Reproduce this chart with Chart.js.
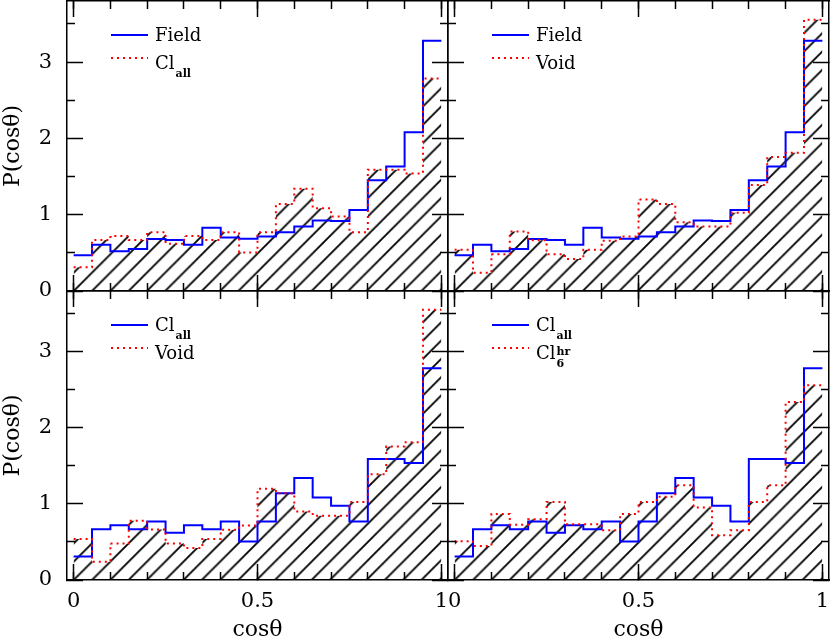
<!DOCTYPE html>
<html>
<head>
<meta charset="utf-8">
<script src="https://cdn.jsdelivr.net/npm/chart.js@4.4.1/dist/chart.umd.min.js"></script>
<style>
html,body{margin:0;padding:0;background:#fff;}
#wrap{position:relative;width:830px;height:640px;overflow:hidden;background:#fff;}
#wrap canvas{position:absolute;left:0;top:0;}
</style>
</head>
<body>
<div id="wrap">
<canvas id="c0" width="830" height="640"></canvas>
<canvas id="c1" width="830" height="640"></canvas>
<canvas id="c2" width="830" height="640"></canvas>
<canvas id="c3" width="830" height="640"></canvas>
</div>
<script>
// ---------- data ----------
const binEdges = [0, 0.05, 0.10, 0.15, 0.20, 0.25, 0.30, 0.35, 0.40, 0.45, 0.50,
                  0.55, 0.60, 0.65, 0.70, 0.75, 0.80, 0.85, 0.90, 0.95, 1.00];
const field  = [0.47, 0.605, 0.52, 0.55, 0.68, 0.667, 0.605, 0.83, 0.70, 0.684,
                0.715, 0.77, 0.846, 0.925, 0.917, 1.06, 1.45, 1.63, 2.08, 3.28];
const clAll  = [0.31, 0.667, 0.72, 0.667, 0.77, 0.62, 0.72, 0.667, 0.77, 0.505,
                0.77, 1.14, 1.34, 1.085, 0.975, 0.77, 1.59, 1.59, 1.54, 2.785];
const voidV  = [0.54, 0.24, 0.48, 0.78, 0.665, 0.48, 0.42, 0.54, 0.66, 0.715,
                1.20, 1.14, 0.90, 0.845, 0.845, 1.025, 1.39, 1.755, 1.81, 3.555];
const cl6hr  = [0.51, 0.447, 0.868, 0.728, 0.80, 1.026, 0.732, 0.732, 0.654, 0.868,
                1.026, 1.096, 1.246, 0.952, 0.588, 0.654, 1.026, 1.246, 2.34, 2.56];

const xMajorTicks = [0, 0.5, 1];
const xMinorTicks = [0, 0.1, 0.2, 0.3, 0.4, 0.5, 0.6, 0.7, 0.8, 0.9, 1];
const yMajorTicks = [0, 1, 2, 3];
const yMinorTicks = [0.5, 1.5, 2.5, 3.5];
const xTickLabels = ['0', '0.5', '1'];
const yTickLabels = ['0', '1', '2', '3'];
const xTitle = 'cosθ';
const yTitle = 'P(cosθ)';

// ---------- layout / style ----------
const XMIN = -0.018, XMAX = 1.018, YMIN = 0, YMAX = 3.8;
const COLS = [[67, 448], [448, 829]];
const ROWS = [[1, 291], [291, 580]];
const BLUE = '#0000ff', RED = '#ff0000';
const TICK_FONT = {family: '"DejaVu Serif"', size: 21};
const TITLE_FONT = {family: '"DejaVu Serif"', size: 22};

const panels = [
  {id: 'c0', col: 0, row: 0, blue: field, red: clAll,
   legend: [{text: 'Field'}, {text: 'Cl', sub: 'all'}]},
  {id: 'c1', col: 1, row: 0, blue: field, red: voidV,
   legend: [{text: 'Field'}, {text: 'Void'}]},
  {id: 'c2', col: 0, row: 1, blue: clAll, red: voidV,
   legend: [{text: 'Cl', sub: 'all'}, {text: 'Void'}]},
  {id: 'c3', col: 1, row: 1, blue: clAll, red: cl6hr,
   legend: [{text: 'Cl', sub: 'all'}, {text: 'Cl', sub: '6', sup: 'hr'}]}
];

function histPoints(vals) {
  const pts = vals.map((v, i) => ({x: binEdges[i], y: v}));
  pts.push({x: binEdges[binEdges.length - 1], y: vals[vals.length - 1]});
  return pts;
}

function makeHatch(ctx, offset) {
  const s = 18;
  const c = document.createElement('canvas');
  c.width = s; c.height = s;
  const g = c.getContext('2d');
  g.strokeStyle = '#000';
  g.lineWidth = 1.8;
  g.beginPath();
  g.moveTo(-3, s + 3); g.lineTo(s + 3, -3);
  g.moveTo(-3, 3); g.lineTo(3, -3);
  g.moveTo(s - 3, s + 3); g.lineTo(s + 3, s - 3);
  g.stroke();
  const p = ctx.createPattern(c, 'repeat');
  const k = 18.3 / s;
  p.setTransform(new DOMMatrix([k, 0, 0, k, offset, 0]));
  return p;
}

const legendPlugin = {
  id: 'panelLegend',
  afterDraw(chart, args, opts) {
    const {ctx, chartArea} = chart;
    const L = chartArea.left, T = chartArea.top;
    const lineY = [34, 57], baseY = [40, 68];
    ctx.save();
    opts.entries.forEach((e, i) => {
      const ly = T + lineY[i];
      ctx.beginPath();
      ctx.strokeStyle = i === 0 ? BLUE : RED;
      ctx.lineWidth = 2;
      ctx.setLineDash(i === 0 ? [] : [2, 4]);
      ctx.moveTo(L + 44, ly);
      ctx.lineTo(L + 81, ly);
      ctx.stroke();
      ctx.setLineDash([]);
      const by = T + baseY[i];
      let tx = L + 88;
      ctx.fillStyle = '#000';
      ctx.textAlign = 'left';
      ctx.textBaseline = 'alphabetic';
      ctx.font = '18px "DejaVu Serif"';
      ctx.fillText(e.text, tx, by);
      tx += ctx.measureText(e.text).width + 1;
      ctx.font = 'bold 11px "DejaVu Serif"';
      if (e.sub) ctx.fillText(e.sub, tx, by + 8);
      if (e.sup) ctx.fillText(e.sup, tx, by - 4);
    });
    ctx.restore();
  }
};

function zeroFit(size) {
  return function (scale) {
    if (scale.isHorizontal()) scale.height = size; else scale.width = size;
    scale.paddingLeft = 0; scale.paddingRight = 0;
    scale.paddingTop = 0; scale.paddingBottom = 0;
  };
}

function tickAxis(pos, list, len, withBorder, horizontal) {
  return {
    type: 'linear', position: pos,
    min: horizontal ? XMIN : YMIN, max: horizontal ? XMAX : YMAX,
    weight: 0,
    afterBuildTicks: s => { s.ticks = list.map(v => ({value: v})); },
    afterFit: zeroFit(0),
    ticks: {display: false, autoSkip: false},
    grid: {display: true, drawOnChartArea: false, drawTicks: true,
           tickLength: -len, tickColor: '#000', tickWidth: 1.5, z: 1},
    border: {display: withBorder, color: '#000', width: 1.5, z: 1}
  };
}

panels.forEach(p => {
  const [L, R] = COLS[p.col];
  const [T, B] = ROWS[p.row];
  const isLeft = p.col === 0, isBottom = p.row === 1;
  const canvas = document.getElementById(p.id);
  const ctx = canvas.getContext('2d');
  const x0 = L + (0 - XMIN) / (XMAX - XMIN) * (R - L);
  const hatch = makeHatch(ctx, x0 + B);

  const scales = {
    x: tickAxis('bottom', xMajorTicks, 16, true, true),
    xm: tickAxis('bottom', xMinorTicks, 8, false, true),
    xt: tickAxis('top', xMajorTicks, 16, true, true),
    xtm: tickAxis('top', xMinorTicks, 8, false, true),
    y: tickAxis('left', yMajorTicks, 16, true, false),
    ym: tickAxis('left', yMinorTicks, 8, false, false),
    yr: tickAxis('right', yMajorTicks, 16, true, false),
    yrm: tickAxis('right', yMinorTicks, 8, false, false)
  };
  if (isBottom) {
    scales.xl = {
      type: 'linear', position: 'bottom', min: XMIN, max: XMAX, weight: 1,
      afterBuildTicks: s => { s.ticks = xMajorTicks.map(v => ({value: v})); },
      afterFit: zeroFit(640 - B),
      ticks: {display: true, autoSkip: false, maxRotation: 0, color: '#000',
              font: TICK_FONT, padding: 9,
              callback: (v, i) => xTickLabels[i]},
      grid: {display: false, drawTicks: false},
      border: {display: false},
      title: {display: true, text: xTitle, color: '#000', font: TITLE_FONT,
              padding: {top: 0, bottom: -3}}
    };
  }
  if (isLeft) {
    scales.yl = {
      type: 'linear', position: 'left', min: YMIN, max: YMAX, weight: 1,
      afterBuildTicks: s => { s.ticks = yMajorTicks.map(v => ({value: v})); },
      afterFit: zeroFit(L),
      ticks: {display: true, autoSkip: false, color: '#000',
              font: TICK_FONT, padding: 15,
              callback: (v, i) => yTickLabels[i]},
      grid: {display: false, drawTicks: false},
      border: {display: false},
      title: {display: true, text: yTitle, color: '#000', font: TITLE_FONT,
              padding: {top: 0, bottom: 0}}
    };
  }

  new Chart(ctx, {
    type: 'line',
    data: {
      datasets: [
        {label: 'red', data: histPoints(p.red), borderColor: RED, borderWidth: 2,
         borderDash: [2, 4], stepped: true, pointRadius: 0, fill: 'origin',
         backgroundColor: hatch, order: 1, xAxisID: 'x', yAxisID: 'y'},
        {label: 'blue', data: histPoints(p.blue), borderColor: BLUE, borderWidth: 2,
         stepped: true, pointRadius: 0, fill: false, order: 2,
         xAxisID: 'x', yAxisID: 'y'}
      ]
    },
    options: {
      responsive: false, animation: false, devicePixelRatio: 1, events: [],
      parsing: true,
      layout: {padding: {left: isLeft ? 0 : L, right: 830 - R, top: T,
                         bottom: isBottom ? 0 : 640 - B}},
      scales: scales,
      plugins: {
        legend: {display: false}, tooltip: {enabled: false},
        filler: {drawTime: 'beforeDatasetsDraw'},
        panelLegend: {entries: p.legend}
      }
    },
    plugins: [legendPlugin]
  });
});
</script>
</body>
</html>
